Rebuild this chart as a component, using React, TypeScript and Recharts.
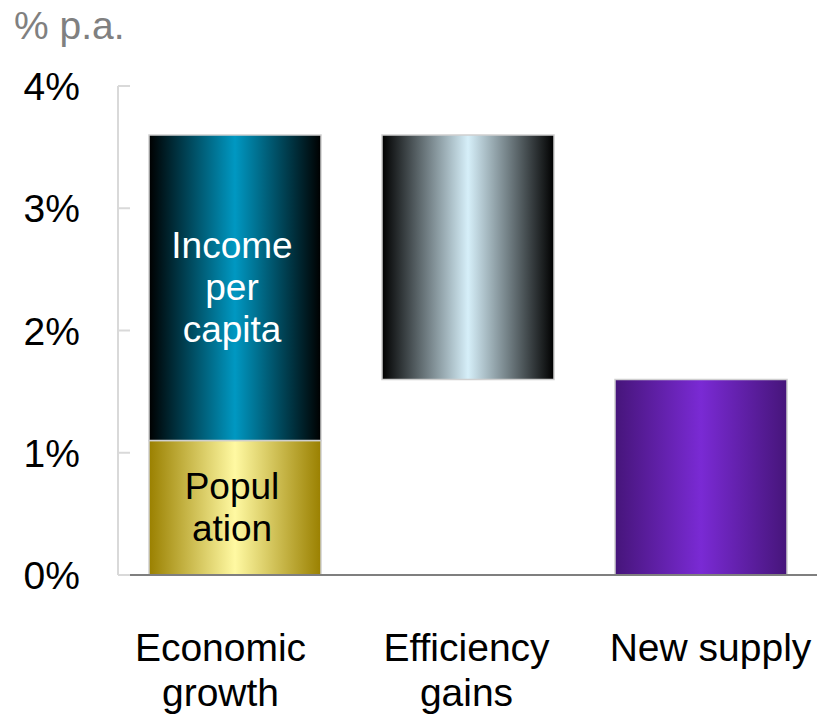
import React from 'react';
import { BarChart, Bar, XAxis, YAxis, Cell } from 'recharts';

const categories = ['Economic growth', 'Efficiency gains', 'New supply'];
const categoryLines = [['Economic', 'growth'], ['Efficiency', 'gains'], ['New supply']];
const floatBase = [0, 1.6, 0];
const lowerSegment = [1.1, 0, 1.6];
const upperSegment = [2.5, 2.0, 0];
const lowerLabels = [['Popul', 'ation'], [], []];
const upperLabels = [['Income', 'per', 'capita'], [], []];
const yTicks = [0, 1, 2, 3, 4];

const lowerFills = ['url(#gold)', 'none', 'url(#purple)'];
const upperFills = ['url(#teal)', 'url(#steel)', 'none'];
// category text boxes in the original sit a little off the bar centres
const labelShift = [-14, -1, 10];

const FONT = '"Liberation Sans", Arial, sans-serif';

const data = categories.map((name, i) => ({
  name,
  base: floatBase[i],
  lower: lowerSegment[i],
  upper: upperSegment[i],
}));

const YTick = (props: any) => {
  const { x, y, payload } = props;
  return (
    <g>
      <line x1={x} x2={x + 12} y1={y} y2={y} stroke="#d9d9d9" strokeWidth={2} />
      <text x={x - 38} y={y} dy="0.36em" textAnchor="end" fontSize={39} fill="#000" fontFamily={FONT}>
        {payload.value}%
      </text>
    </g>
  );
};

const XTick = (props: any) => {
  const { x, y, index } = props;
  const lines = categoryLines[index] || [];
  const cx = x + (labelShift[index] || 0);
  return (
    <text x={cx} y={y} textAnchor="middle" fontSize={39} fill="#000" fontFamily={FONT}>
      {lines.map((l, i) => (
        <tspan key={i} x={cx} y={y + 86 + i * 45}>{l}</tspan>
      ))}
    </text>
  );
};

const segLabel = (labels: string[][], color: string) => (props: any) => {
  const { x, y, width, height, index } = props;
  const lines = labels[index] || [];
  if (!lines.length) return null;
  const lh = 42;
  const cx = x + width / 2 - 3;
  const cy = y + height / 2;
  const first = cy - ((lines.length - 1) * lh) / 2;
  return (
    <text textAnchor="middle" fontSize={37} fill={color} fontFamily={FONT}>
      {lines.map((l, i) => (
        <tspan key={i} x={cx} y={first + i * lh} dy="0.33em">{l}</tspan>
      ))}
    </text>
  );
};

const Grad = ({ id, edge, mid }: { id: string; edge: string; mid: string }) => (
  <linearGradient id={id} x1="0" y1="0" x2="1" y2="0">
    <stop offset="0%" stopColor={edge} />
    <stop offset="50%" stopColor={mid} />
    <stop offset="100%" stopColor={edge} />
  </linearGradient>
);

export default function App() {
  return (
    <div style={{ position: 'absolute', left: 0, top: 0, width: 817, height: 718, background: '#fff' }}>
      <svg width={817} height={60} style={{ position: 'absolute', left: 0, top: 0 }}>
        <text x={14} y={39} fontSize={39} fill="#808080" fontFamily={FONT}>% p.a.</text>
      </svg>
      <BarChart
        width={817}
        height={718}
        data={data}
        margin={{ top: 86, right: 0, left: 0, bottom: 0 }}
        barSize={172}
      >
        <defs>
          <Grad id="teal" edge="#000000" mid="#0098c2" />
          <Grad id="steel" edge="#000000" mid="#d6eff9" />
          <Grad id="gold" edge="#9a8000" mid="#fff9a2" />
          <Grad id="purple" edge="#46157a" mid="#7a2ad4" />
        </defs>
        <XAxis
          dataKey="name"
          height={143}
          axisLine={{ stroke: '#7f7f7f', strokeWidth: 2 }}
          tickLine={false}
          tickSize={0}
          tickMargin={0}
          tick={<XTick />}
          interval={0}
        />
        <YAxis
          width={118}
          domain={[0, 4]}
          ticks={yTicks}
          axisLine={{ stroke: '#d9d9d9', strokeWidth: 2 }}
          tickLine={false}
          tickSize={0}
          tickMargin={0}
          tick={<YTick />}
        />
        <Bar dataKey="base" stackId="s" fill="none" isAnimationActive={false} />
        <Bar dataKey="lower" stackId="s" isAnimationActive={false} label={segLabel(lowerLabels, '#000')}>
          {lowerFills.map((f, i) => (
            <Cell key={i} fill={f} stroke={f === 'none' ? 'none' : '#cfcfcf'} strokeWidth={1.5} />
          ))}
        </Bar>
        <Bar dataKey="upper" stackId="s" isAnimationActive={false} label={segLabel(upperLabels, '#fff')}>
          {upperFills.map((f, i) => (
            <Cell key={i} fill={f} stroke={f === 'none' ? 'none' : '#cfcfcf'} strokeWidth={1.5} />
          ))}
        </Bar>
      </BarChart>
    </div>
  );
}
